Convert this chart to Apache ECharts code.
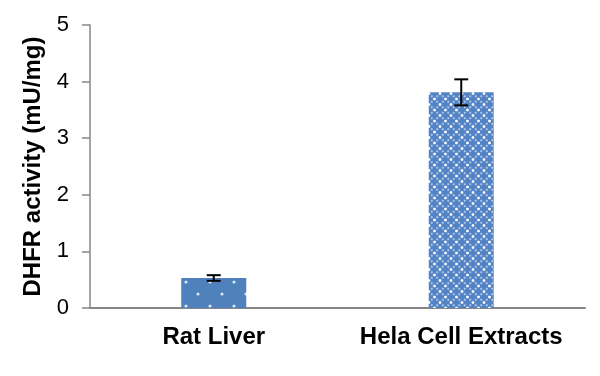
<!DOCTYPE html>
<html><head><meta charset="utf-8">
<script src="https://cdn.jsdelivr.net/npm/echarts@6/dist/echarts.min.js"></script>
<style>html,body{margin:0;padding:0;background:#fff}#c{width:600px;height:376px}</style>
</head><body><div id="c"></div>
<script>
const categories = ['Rat Liver', 'Hela Cell Extracts'];
const values = [0.53, 3.81];
const errors = [0.05, 0.23];
const yTicks = [0, 1, 2, 3, 4, 5];

function dotPattern() {
  const c = document.createElement('canvas');
  c.width = 24; c.height = 24;
  const g = c.getContext('2d');
  g.fillStyle = '#4f81bd'; g.fillRect(0, 0, 24, 24);
  g.fillStyle = '#d8e3f3';
  [[6, 6], [18, 18]].forEach(p => { g.beginPath(); g.arc(p[0], p[1], 1.6, 0, Math.PI * 2); g.fill(); });
  return c;
}
function crossPattern() {
  const s = 11;
  const c = document.createElement('canvas');
  c.width = s; c.height = s;
  const g = c.getContext('2d');
  g.fillStyle = '#b3c8e8'; g.fillRect(0, 0, s, s);
  g.fillStyle = '#5283c4';
  const plus = (x, y) => { g.fillRect(x - 1.8, y - 4.3, 3.6, 8.6); g.fillRect(x - 4.3, y - 1.8, 8.6, 3.6); };
  [[0,0],[s,0],[0,s],[s,s],[s/2,s/2]].forEach(p => plus(p[0], p[1]));
  g.fillStyle = '#ffffff';
  [[s/2,0],[0,s/2],[s,s/2],[s/2,s]].forEach(p => { g.beginPath(); g.arc(p[0], p[1], 1.3, 0, Math.PI * 2); g.fill(); });
  return c;
}
const patterns = [dotPattern(), crossPattern()];

const chart = echarts.init(document.getElementById('c'));
chart.setOption({
  animation: false,
  grid: { left: 90, right: 15, top: 25, bottom: 68 },
  xAxis: {
    type: 'category', data: categories,
    axisLine: { lineStyle: { color: '#868686', width: 2 } },
    axisTick: { show: false },
    axisLabel: { interval: 0, hideOverlap: false, color: '#000', fontFamily: 'Liberation Sans, Arial', fontWeight: 'bold', fontSize: 24, margin: 17 }
  },
  yAxis: {
    type: 'value', min: 0, max: 5, interval: 1,
    name: 'DHFR activity (mU/mg)', nameLocation: 'middle', nameGap: 45,
    nameTextStyle: { color: '#000', fontFamily: 'Liberation Sans, Arial', fontWeight: 'bold', fontSize: 24 },
    axisLine: { show: true, lineStyle: { color: '#868686', width: 1.5 } },
    axisTick: { show: true, length: 8, lineStyle: { color: '#868686', width: 1.5 } },
    axisLabel: { color: '#000', fontFamily: 'Liberation Sans, Arial', fontSize: 22, margin: 21,
      formatter: v => yTicks.includes(v) ? String(v) : '' },
    splitLine: { show: false }
  },
  series: [
    {
      type: 'bar', barWidth: 65,
      data: values.map((v, i) => ({ value: v, itemStyle: { color: { image: patterns[i], repeat: 'repeat' } } }))
    },
    {
      type: 'custom', z: 10,
      data: values.map((v, i) => [i, v - errors[i], v + errors[i]]),
      renderItem: (params, api) => {
        const lo = api.coord([api.value(0), api.value(1)]);
        const hi = api.coord([api.value(0), api.value(2)]);
        const w = 7;
        const st = { stroke: '#000', lineWidth: 2 };
        return { type: 'group', children: [
          { type: 'line', shape: { x1: lo[0], y1: lo[1], x2: hi[0], y2: hi[1] }, style: st },
          { type: 'line', shape: { x1: lo[0] - w, y1: lo[1], x2: lo[0] + w, y2: lo[1] }, style: st },
          { type: 'line', shape: { x1: hi[0] - w, y1: hi[1], x2: hi[0] + w, y2: hi[1] }, style: st }
        ] };
      }
    }
  ]
});
</script></body></html>
